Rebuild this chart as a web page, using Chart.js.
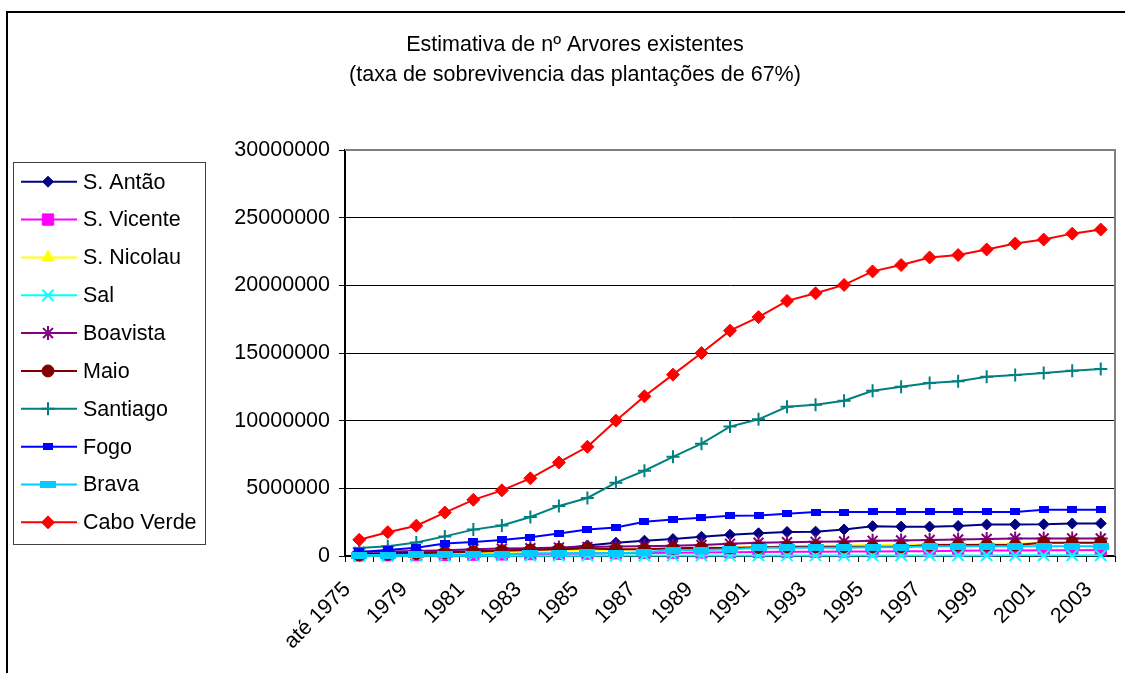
<!DOCTYPE html>
<html>
<head>
<meta charset="utf-8">
<title>Estimativa de nº Arvores existentes</title>
<script src="https://cdn.jsdelivr.net/npm/chart.js@4.4.1/dist/chart.umd.min.js"></script>
<style>
  html, body { margin: 0; padding: 0; background: #ffffff; }
  #wrap { width: 1125px; height: 673px; position: relative; }
  canvas { display: block; }
</style>
</head>
<body>
<div id="wrap"><canvas id="chart" width="1125" height="673"></canvas></div>
<script>
// Categories (years) on the horizontal axis
const categories = ['até 1975', '1978', '1979', '1980', '1981', '1982', '1983', '1984', '1985',
  '1986', '1987', '1988', '1989', '1990', '1991', '1992', '1993', '1994', '1995', '1996',
  '1997', '1998', '1999', '2000', '2001', '2002', '2003'];

// Estimated number of existing trees per island (survival rate 67%)
const santoAntao = [150000, 200000, 250000, 300000, 350000, 400000, 460000, 560000, 780000,
  980000, 1130000, 1250000, 1420000, 1570000, 1680000, 1780000, 1800000, 1960000, 2200000,
  2170000, 2170000, 2220000, 2320000, 2330000, 2340000, 2400000, 2410000];
const saoVicente = [50000, 60000, 70000, 80000, 100000, 120000, 140000, 160000, 180000,
  200000, 220000, 240000, 260000, 280000, 300000, 310000, 320000, 330000, 340000,
  350000, 360000, 380000, 400000, 410000, 420000, 430000, 440000];
const saoNicolau = [50000, 70000, 100000, 150000, 250000, 300000, 340000, 380000, 420000,
  460000, 500000, 540000, 580000, 620000, 660000, 700000, 740000, 780000, 810000,
  840000, 870000, 890000, 910000, 930000, 950000, 970000, 990000];
const sal = [10000, 12000, 14000, 16000, 18000, 20000, 22000, 24000, 26000,
  28000, 30000, 32000, 34000, 36000, 38000, 40000, 40000, 42000, 42000,
  44000, 44000, 46000, 46000, 48000, 48000, 50000, 50000];
const boavista = [300000, 330000, 370000, 420000, 500000, 550000, 580000, 620000, 660000,
  700000, 720000, 760000, 820000, 900000, 980000, 1020000, 1050000, 1080000, 1120000,
  1150000, 1180000, 1220000, 1260000, 1300000, 1300000, 1300000, 1300000];
const maio = [70000, 130000, 180000, 250000, 320000, 390000, 440000, 490000, 550000,
  500000, 500000, 570000, 610000, 600000, 640000, 690000, 690000, 690000, 690000,
  690000, 810000, 810000, 810000, 810000, 980000, 980000, 980000];
const santiago = [600000, 720000, 1000000, 1450000, 1950000, 2250000, 2880000, 3700000, 4290000,
  5420000, 6300000, 7330000, 8300000, 9560000, 10100000, 11030000, 11180000, 11470000, 12210000,
  12500000, 12790000, 12920000, 13240000, 13380000, 13530000, 13680000, 13820000];
const fogo = [300000, 450000, 610000, 930000, 1040000, 1190000, 1390000, 1660000, 1950000,
  2110000, 2530000, 2690000, 2820000, 2980000, 3000000, 3120000, 3250000, 3250000, 3260000,
  3260000, 3260000, 3260000, 3260000, 3260000, 3420000, 3420000, 3420000];
const brava = [70000, 70000, 80000, 90000, 100000, 120000, 200000, 200000, 230000,
  200000, 270000, 440000, 440000, 490000, 610000, 610000, 610000, 610000, 650000,
  650000, 720000, 720000, 720000, 720000, 720000, 720000, 720000];
const caboVerde = [1200000, 1760000, 2240000, 3210000, 4150000, 4850000, 5740000, 6910000, 8070000,
  10000000, 11800000, 13400000, 15000000, 16650000, 17650000, 18850000, 19410000, 20030000, 21030000,
  21500000, 22060000, 22240000, 22650000, 23090000, 23380000, 23820000, 24120000];

const seriesNames = ['S. Antão', 'S. Vicente', 'S. Nicolau', 'Sal', 'Boavista', 'Maio',
  'Santiago', 'Fogo', 'Brava', 'Cabo Verde'];
const seriesValues = [santoAntao, saoVicente, saoNicolau, sal, boavista, maio,
  santiago, fogo, brava, caboVerde];

// Value axis ticks
const yMin = 0;
const yMax = 30000000;
const yStep = 5000000;

const titleLines = ['Estimativa de nº Arvores existentes',
  '(taxa de sobrevivencia das plantações de 67%)'];

const FONT = "'Liberation Sans', Arial, Helvetica, sans-serif";
const FONT_SIZE = 21.5;

// Bar-shaped markers (short and long dash)
function barMarker(w, h, color) {
  const c = document.createElement('canvas');
  c.width = w; c.height = h;
  const g = c.getContext('2d');
  g.fillStyle = color;
  g.fillRect(0, 0, w, h);
  return c;
}

const seriesStyles = [
  { color: '#000080', style: 'rectRot', radius: 5.5, bw: 1 },
  { color: '#FF00FF', style: 'rect', radius: 8, bw: 1 },
  { color: '#FFFF00', style: 'triangle', radius: 7, bw: 1 },
  { color: '#00FFFF', style: 'crossRot', radius: 8, bw: 2 },
  { color: '#800080', style: 'star', radius: 7, bw: 2 },
  { color: '#800000', style: 'circle', radius: 6, bw: 1 },
  { color: '#008080', style: 'cross', radius: 6.5, bw: 2 },
  { color: '#0000FF', style: barMarker(10, 7, '#0000FF'), radius: 5, bw: 0 },
  { color: '#00CCFF', style: barMarker(16, 7, '#00CCFF'), radius: 8, bw: 0 },
  { color: '#FF0000', style: 'rectRot', radius: 6.5, bw: 1 }
];

const datasets = seriesNames.map((name, i) => {
  const s = seriesStyles[i];
  return {
    label: name,
    data: seriesValues[i],
    borderColor: s.color,
    backgroundColor: s.color,
    borderWidth: 2,
    pointStyle: s.style,
    pointRadius: s.radius,
    pointHoverRadius: s.radius,
    pointBackgroundColor: s.color,
    pointBorderColor: s.color,
    pointBorderWidth: s.bw,
    tension: 0,
    clip: false,
    order: seriesNames.length - 1 - i   // later series painted on top
  };
});

// Outer frame of the chart
const framePlugin = {
  id: 'frame',
  beforeDraw(chart) {
    const ctx = chart.ctx;
    ctx.save();
    ctx.fillStyle = '#ffffff';
    ctx.fillRect(0, 0, chart.width, chart.height);
    ctx.strokeStyle = '#000000';
    ctx.lineWidth = 2;
    ctx.beginPath();
    ctx.moveTo(7, chart.height + 2);
    ctx.lineTo(7, 12);
    ctx.lineTo(chart.width + 2, 12);
    ctx.stroke();
    ctx.restore();
  }
};

// Grey border on the top and right of the plot area
const plotBorderPlugin = {
  id: 'plotBorder',
  beforeDatasetsDraw(chart) {
    const a = chart.chartArea;
    const ctx = chart.ctx;
    ctx.save();
    ctx.strokeStyle = '#808080';
    ctx.lineWidth = 2;
    ctx.beginPath();
    ctx.moveTo(a.left, a.top);
    ctx.lineTo(a.right, a.top);
    ctx.lineTo(a.right, a.bottom);
    ctx.stroke();
    ctx.restore();
  }
};

// Two-line centred title
const titlePlugin = {
  id: 'twoLineTitle',
  afterDraw(chart) {
    const ctx = chart.ctx;
    ctx.save();
    ctx.fillStyle = '#000000';
    ctx.font = FONT_SIZE + 'px ' + FONT;
    ctx.textAlign = 'center';
    ctx.textBaseline = 'middle';
    titleLines.forEach((t, i) => ctx.fillText(t, 575, 45 + i * 30));
    ctx.restore();
  }
};

// Boxed legend on the left: line + marker + series name
const legendPlugin = {
  id: 'boxLegend',
  afterDraw(chart) {
    const ctx = chart.ctx;
    ctx.save();
    ctx.strokeStyle = '#404040';
    ctx.lineWidth = 1;
    ctx.strokeRect(13.5, 162.5, 192, 382);
    chart.data.datasets.forEach((ds, i) => {
      const y = 181.7 + i * 37.85;
      ctx.strokeStyle = ds.borderColor;
      ctx.lineWidth = 2;
      ctx.beginPath();
      ctx.moveTo(21, y);
      ctx.lineTo(77, y);
      ctx.stroke();
      ctx.fillStyle = ds.pointBackgroundColor;
      ctx.strokeStyle = ds.pointBorderColor;
      ctx.lineWidth = ds.pointBorderWidth;
      Chart.helpers.drawPoint(ctx, {
        pointStyle: ds.pointStyle,
        radius: ds.pointRadius,
        rotation: 0,
        borderWidth: ds.pointBorderWidth
      }, 48, y);
      ctx.fillStyle = '#000000';
      ctx.font = FONT_SIZE + 'px ' + FONT;
      ctx.textAlign = 'left';
      ctx.textBaseline = 'middle';
      ctx.fillText(ds.label, 83, y + 1);
    });
    ctx.restore();
  }
};

new Chart(document.getElementById('chart'), {
  type: 'line',
  data: { labels: categories, datasets: datasets },
  plugins: [framePlugin, plotBorderPlugin, titlePlugin, legendPlugin],
  options: {
    responsive: false,
    animation: false,
    layout: { padding: { left: 215, right: 3, top: 150, bottom: 0 } },
    plugins: {
      legend: { display: false },
      title: { display: false },
      tooltip: { enabled: false }
    },
    scales: {
      x: {
        type: 'category',
        offset: true,
        grid: {
          offset: true,
          drawOnChartArea: false,
          drawTicks: true,
          tickLength: 6,
          color: '#000000'
        },
        border: { display: true, color: '#000000', width: 2 },
        ticks: {
          autoSkip: false,
          minRotation: 45,
          maxRotation: 45,
          padding: 15,
          labelOffset: -12,
          color: '#000000',
          font: { family: FONT, size: FONT_SIZE },
          callback(value, index) {
            return index % 2 === 0 ? this.getLabelForValue(value) : '';
          }
        },
        afterFit(scale) {
          scale.height = 117;
          scale.paddingLeft = 0;
          scale.paddingRight = 0;
        }
      },
      y: {
        min: yMin,
        max: yMax,
        grid: {
          color: '#000000',
          lineWidth: 1,
          drawTicks: true,
          tickLength: 6
        },
        border: { display: true, color: '#000000', width: 2 },
        ticks: {
          stepSize: yStep,
          padding: 9,
          color: '#000000',
          font: { family: FONT, size: FONT_SIZE },
          callback: (v) => String(v)
        },
        afterFit(scale) {
          scale.width = 130;
          scale.paddingTop = 0;
          scale.paddingBottom = 0;
        }
      }
    }
  }
});
</script>
</body>
</html>
